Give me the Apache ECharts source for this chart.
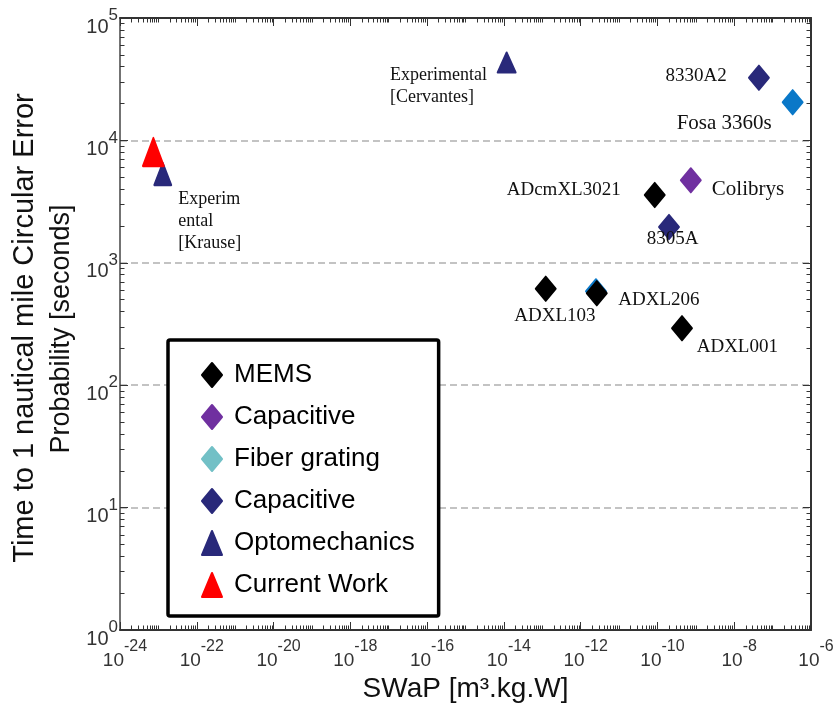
<!DOCTYPE html>
<html><head><meta charset="utf-8">
<script src="https://cdn.jsdelivr.net/npm/echarts@6/dist/echarts.min.js"></script>
<style>html,body{margin:0;padding:0;background:#fff}#c{width:834px;height:708px}</style>
</head><body><div id="c"></div>
<script>
// ---- tick labels (powers of ten) ----
const xTickExponents = [-24, -22, -20, -18, -16, -14, -12, -10, -8, -6];
const yTickExponents = [0, 1, 2, 3, 4, 5];

// ---- data: SWaP [m3.kg.W] vs time to 1 nmi CEP [s] ----
const memsNames = ['ADcmXL3021', 'ADXL103', 'ADXL206', 'ADXL001'];
const memsSWaP = [8.5e-11, 1.23e-13, 2.63e-12, 4.36e-10];
const memsTime = [3580, 614, 564, 292];

const capPurpleNames = ['Colibrys'];
const capPurpleSWaP = [7.4e-10];
const capPurpleTime = [4720];

const fiberNames = ['Fosa 3360s', ''];
const fiberSWaP = [3.33e-7, 2.5e-12];
const fiberTime = [20500, 585];

const capNavyNames = ['8330A2', '8305A'];
const capNavySWaP = [4.4e-8, 2.0e-10];
const capNavyTime = [32500, 1960];

const optoNames = ['Experimental\n[Cervantes]', 'Experim\nental\n[Krause]'];
const optoSWaP = [1.18e-14, 1.3e-23];
const optoTime = [43300, 5310];

const currentNames = ['Current Work'];
const currentSWaP = [7.4e-24];
const currentTime = [8040];

// ---- label placement / symbol sizes (styles, kept apart from data) ----
const labelLayout = {
  'ADcmXL3021': {dx: -148, dy: -5, size: 19},
  'ADXL103': {dx: -31.5, dy: 27, size: 19},
  'ADXL206': {dx: 21.5, dy: 6.5, size: 19},
  'ADXL001': {dx: 14.7, dy: 18.4, size: 19},
  'Colibrys': {dx: 21, dy: 9.4, size: 21},
  'Fosa 3360s': {dx: -116, dy: 21.4, size: 21},
  '8330A2': {dx: -93.3, dy: -1.4, size: 19},
  '8305A': {dx: -22.3, dy: 12, size: 19},
  'Experimental\n[Cervantes]': {dx: -116.7, dy: 23.7, size: 18, lh: 22.5},
  'Experim\nental\n[Krause]': {dx: 15.5, dy: 47.3, size: 18, lh: 21.7}
};
const symbolSizes = {
  'Experimental\n[Cervantes]': [18, 20],
  'Experim\nental\n[Krause]': [17, 22],
  'Current Work': [21, 28]
};

function pow10(e) { return Math.pow(10, e); }
const xMajor = xTickExponents.map(pow10);
const yMajor = yTickExponents.map(pow10);
function minorTicks(exps) {
  const out = [];
  for (let n = exps[0]; n < exps[exps.length - 1]; n++) {
    if (exps.indexOf(n) < 0) out.push(pow10(n));
    for (let k = 2; k <= 9; k++) out.push(k * pow10(n));
  }
  return out;
}
const xMinor = minorTicks(xTickExponents);
const yMinor = minorTicks(yTickExponents);

function labelFor(n) {
  const l = labelLayout[n];
  if (!l) return {show: false};
  return {
    show: true, position: 'inside', align: 'left', verticalAlign: 'middle',
    offset: [l.dx, l.dy], formatter: '{b}',
    fontFamily: 'Liberation Serif', fontSize: l.size, lineHeight: l.lh || l.size,
    color: '#111'
  };
}

function makeSeries(name, names, xs, ys, o) {
  return {
    type: 'scatter', name: name, xAxisIndex: 0, yAxisIndex: 0, z: o.z || 2,
    symbol: o.symbol, symbolSize: o.size, silent: true,
    itemStyle: {color: o.color, borderColor: o.color, borderWidth: 2, borderJoin: 'round', opacity: 1},
    data: names.map((n, i) => {
      const d = {value: [xs[i], ys[i]], name: n, label: labelFor(n)};
      if (symbolSizes[n]) d.symbolSize = symbolSizes[n];
      if (o.pointColor) d.itemStyle = {color: o.pointColor, borderColor: o.pointColor};
      return d;
    })
  };
}

const navy = '#29297a';
const series = [
  makeSeries('MEMS', memsNames, memsSWaP, memsTime, {symbol: 'diamond', size: [20, 24], color: '#000', z: 3}),
  makeSeries('Capacitive', capPurpleNames, capPurpleSWaP, capPurpleTime, {symbol: 'diamond', size: [20, 24], color: '#7030a0'}),
  makeSeries('Fiber grating', fiberNames, fiberSWaP, fiberTime, {symbol: 'diamond', size: [20, 24], color: '#72c0c6', pointColor: '#0a78c8'}),
  makeSeries('Capacitive ', capNavyNames, capNavySWaP, capNavyTime, {symbol: 'diamond', size: [20, 24], color: navy}),
  makeSeries('Optomechanics', optoNames, optoSWaP, optoTime, {symbol: 'triangle', size: [18, 22], color: navy}),
  makeSeries('Current Work', currentNames, currentSWaP, currentTime, {symbol: 'triangle', size: [21, 28], color: '#ff0000', z: 4})
];

const axisColor = '#333';
function supFormatter(v) {
  const e = Math.round(Math.log10(v));
  return '{b|10}{s|' + e + '}';
}
function baseLogX(extra) {
  return Object.assign({
    type: 'log', logBase: 10, min: xMajor[0], max: xMajor[xMajor.length - 1],
    gridIndex: 0, splitLine: {show: false}, axisLabel: {show: false},
    axisLine: {show: false, onZero: false}
  }, extra);
}
function baseLogY(extra) {
  return Object.assign({
    type: 'log', logBase: 10, min: yMajor[0], max: yMajor[yMajor.length - 1],
    gridIndex: 0, splitLine: {show: false}, axisLabel: {show: false},
    axisLine: {show: false, onZero: false}
  }, extra);
}

const option = {
  animation: false,
  backgroundColor: '#fff',
  grid: {left: 120, right: 23, top: 18, bottom: 78, outerBoundsMode: 'none'},
  legend: {
    orient: 'vertical', left: 168, top: 340,
    padding: [22, 24, 18, 33],
    itemWidth: 20, itemHeight: 24, itemGap: 16,
    borderColor: '#000', borderWidth: 3.5, borderRadius: 2,
    backgroundColor: '#fff', selectedMode: false,
    textStyle: {fontFamily: 'Liberation Sans', fontSize: 26, color: '#000', padding: [0, 0, 0, 7]},
    data: [
      {name: 'MEMS', icon: 'diamond'},
      {name: 'Capacitive', icon: 'diamond'},
      {name: 'Fiber grating', icon: 'diamond'},
      {name: 'Capacitive ', icon: 'diamond'},
      {name: 'Optomechanics', icon: 'triangle'},
      {name: 'Current Work', icon: 'triangle'}
    ]
  },
  xAxis: [
    baseLogX({
      position: 'bottom',
      axisLine: {show: true, onZero: false, lineStyle: {color: axisColor, width: 2}},
      axisTick: {show: true, inside: true, length: 8, customValues: xMajor, lineStyle: {color: axisColor, width: 1}},
      axisLabel: {
        show: true, customValues: xMajor, margin: 21, formatter: supFormatter,
        padding: [0, 0, 0, 10],
        rich: {
          b: {fontFamily: 'Liberation Sans', fontSize: 19, lineHeight: 19, color: '#333', verticalAlign: 'bottom'},
          s: {fontFamily: 'Liberation Sans', fontSize: 16, lineHeight: 16, color: '#333', verticalAlign: 'bottom', padding: [0, 0, 15.5, 0]}
        }
      },
      name: 'SWaP [m\u00b3.kg.W]', nameLocation: 'middle', nameGap: 45,
      nameTextStyle: {fontFamily: 'Liberation Sans', fontSize: 28, color: '#111'}
    }),
    baseLogX({position: 'bottom', axisTick: {show: true, inside: true, length: 4.5, customValues: xMinor, lineStyle: {color: axisColor, width: 1}}}),
    baseLogX({
      position: 'top',
      axisLine: {show: true, onZero: false, lineStyle: {color: axisColor, width: 2}},
      axisTick: {show: true, inside: true, length: 8, customValues: xMajor, lineStyle: {color: axisColor, width: 1}}
    }),
    baseLogX({position: 'top', axisTick: {show: true, inside: true, length: 4.5, customValues: xMinor, lineStyle: {color: axisColor, width: 1}}})
  ],
  yAxis: [
    baseLogY({
      position: 'left',
      axisLine: {show: true, onZero: false, lineStyle: {color: '#444', width: 1.5}},
      axisTick: {show: true, inside: true, length: 8, customValues: yMajor, lineStyle: {color: axisColor, width: 1}},
      splitLine: {show: true, lineStyle: {color: '#b0b0b0', width: 1.5, type: [7, 4]}},
      axisLabel: {
        show: true, customValues: yMajor, margin: 2, formatter: supFormatter,
        padding: [18, 0, 0, 0],
        rich: {
          b: {fontFamily: 'Liberation Sans', fontSize: 20, lineHeight: 20, color: '#333', verticalAlign: 'bottom'},
          s: {fontFamily: 'Liberation Sans', fontSize: 17, lineHeight: 17, color: '#333', verticalAlign: 'bottom', padding: [0, 0, 13, 0]}
        }
      },
      name: '{a|Time to 1 nautical mile Circular Error}\n{b|Probability [seconds]}',
      nameLocation: 'middle', nameRotate: 90, nameGap: 40,
      nameTextStyle: {
        align: 'center',
        rich: {
          a: {fontFamily: 'Liberation Sans', fontSize: 29, lineHeight: 37, color: '#111', padding: [0, 8, 0, 0]},
          b: {fontFamily: 'Liberation Sans', fontSize: 27, lineHeight: 37, color: '#111', padding: [0, 10, 0, 0]}
        }
      }
    }),
    baseLogY({position: 'left', axisTick: {show: true, inside: true, length: 4.5, customValues: yMinor, lineStyle: {color: axisColor, width: 1}}}),
    baseLogY({
      position: 'right',
      axisLine: {show: true, onZero: false, lineStyle: {color: axisColor, width: 2}},
      axisTick: {show: true, inside: true, length: 8, customValues: yMajor, lineStyle: {color: axisColor, width: 1}}
    }),
    baseLogY({position: 'right', axisTick: {show: true, inside: true, length: 4.5, customValues: yMinor, lineStyle: {color: axisColor, width: 1}}})
  ],
  series: series
};

const chart = echarts.init(document.getElementById('c'), null, {renderer: 'canvas'});
chart.setOption(option);
</script>
</body></html>
